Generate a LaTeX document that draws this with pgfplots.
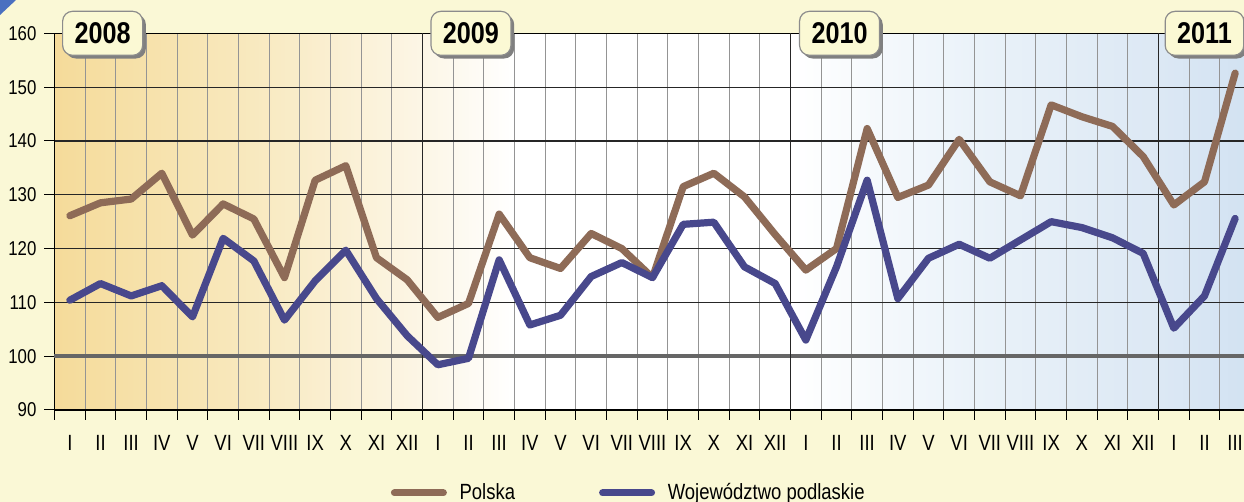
\documentclass[border=0pt]{standalone}
\usepackage{fontspec}
\setmainfont{Liberation Sans}[FakeStretch=0.84]
\usepackage{pgfplots}
\usepackage{pgfplotstable}
\pgfplotsset{compat=1.18}
\usetikzlibrary{shadows}
\definecolor{polska}{HTML}{8E6B57}
\definecolor{podl}{HTML}{48488C}
\definecolor{bgy}{HTML}{FAF8D6}
\definecolor{boxf}{HTML}{FBF9D4}
\definecolor{tri}{HTML}{4A70C0}
\definecolor{sa}{HTML}{F5DB9A}
\definecolor{sb}{HTML}{F8E8BC}
\definecolor{sc}{HTML}{FCF6E6}
\definecolor{sd}{HTML}{FFFFFF}
\definecolor{se}{HTML}{EAF2F9}
\definecolor{sf}{HTML}{DCE8F4}
\definecolor{sg}{HTML}{D2E2F2}
\pgfdeclarehorizontalshading{plotbg}{100bp}{color(0bp)=(sa); color(25bp)=(sa); color(32.7bp)=(sb); color(40.4bp)=(sc); color(44.2bp)=(sd); color(55.8bp)=(sd); color(63.5bp)=(se); color(71.2bp)=(sf); color(75bp)=(sg); color(100bp)=(sg)}

\pgfplotstableread{
x p w
0.5 126.1 110.4
1.5 128.5 113.5
2.5 129.2 111.2
3.5 134.0 113.1
4.5 122.5 107.3
5.5 128.3 121.9
6.5 125.5 117.7
7.5 114.6 106.7
8.5 132.7 114.0
9.5 135.4 119.7
10.5 118.3 110.7
11.5 114.2 103.8
12.5 107.2 98.4
13.5 109.8 99.6
14.5 126.4 117.9
15.5 118.3 105.8
16.5 116.3 107.6
17.5 122.8 114.8
18.5 120.0 117.4
19.5 114.6 114.6
20.5 131.5 124.5
21.5 134.0 124.9
22.5 129.6 116.6
23.5 122.6 113.5
24.5 116.0 103.0
25.5 120.0 116.6
26.5 142.3 132.7
27.5 129.5 110.7
28.5 131.8 118.2
29.5 140.3 120.8
30.5 132.4 118.2
31.5 129.8 121.6
32.5 146.7 125.0
33.5 144.5 123.9
34.5 142.7 122.0
35.5 137.1 119.1
36.5 128.1 105.2
37.5 132.4 111.2
38.5 152.6 125.6
}\datatable

\begin{document}
\begin{tikzpicture}
\useasboundingbox (0,0) rectangle (622pt,251pt);
\clip (0,0) rectangle (622pt,251pt);
\fill[bgy] (0,0) rectangle (622pt,251pt);
\fill[tri] (0,251pt) -- (8pt,251pt) -- (0,243.5pt) -- cycle;
\begin{axis}[
  at={(27.25pt,46pt)}, anchor=south west,
  scale only axis, width=598pt, height=188.35pt,
  xmin=0, xmax=39, ymin=90, ymax=160,
  clip=false,
  axis background/.style={shading=plotbg},
  axis line style={black, line width=0.6pt},
  tick align=outside, xtick pos=bottom, ytick pos=left,
  xtick={0.5,1.5,...,38.5},
  xticklabels={I,II,III,IV,V,VI,VII,VIII,IX,X,XI,XII,I,II,III,IV,V,VI,VII,VIII,IX,X,XI,XII,I,II,III,IV,V,VI,VII,VIII,IX,X,XI,XII,I,II,III},
  minor xtick={0,1,...,39},
  major x tick style={draw=none},
  minor tick length=5pt, major tick length=5pt,
  tick style={black, line width=0.5pt},
  xminorgrids=true, xmajorgrids=false,
  minor x grid style={black!42, line width=0.6pt},
  ytick={90,100,...,160},
  ymajorgrids=true,
  major y grid style={black!85, line width=0.6pt},
  /pgf/number format/assume math mode=true,
  xticklabel style={font=\fontsize{11pt}{13pt}\selectfont, anchor=north, yshift=-4pt},
  yticklabel style={font=\fontsize{10pt}{12pt}\selectfont, anchor=east, xshift=-0.5pt},
  legend style={at={(0.481,-0.2200)}, anchor=center, draw=none, fill=none,
    font=\fontsize{11pt}{13pt}\selectfont,
    /tikz/every even column/.append style={column sep=40pt}},
  legend columns=2,
  legend image code/.code={\draw[#1, line width=3.5pt, line cap=round] (0pt,0pt) -- (24.5pt,0pt); \path (28.8pt,0pt);},
]
\draw[black!60, line width=2pt] (axis cs:0,100) -- (axis cs:39,100);
\draw[black!85, line width=0.9pt] (axis cs:12,90) -- (axis cs:12,160);
\draw[black!85, line width=0.9pt] (axis cs:24,90) -- (axis cs:24,160);
\draw[black!85, line width=0.9pt] (axis cs:36,90) -- (axis cs:36,160);
\addplot[polska, line width=3.6pt, line join=round, line cap=round] table[x=x, y=p] {\datatable};
\addlegendentry{Polska}
\addplot[podl, line width=3.6pt, line join=round, line cap=round] table[x=x, y=w] {\datatable};
\addlegendentry{Województwo podlaskie}
\tikzset{yearbox/.style={draw=black!45, fill=boxf, rounded corners=5pt, line width=0.6pt,
  font=\bfseries\fontsize{15pt}{17pt}\selectfont, minimum height=22pt, inner xsep=6pt,
  drop shadow={shadow xshift=1.6pt, shadow yshift=-1.6pt, fill=black!50, opacity=1}}}
\node[yearbox] at (axis cs:1.57,160) {2008};
\node[yearbox] at (axis cs:13.58,160) {2009};
\node[yearbox] at (axis cs:25.6,160) {2010};
\node[yearbox] at (axis cs:37.5,160) {2011};
\end{axis}
\end{tikzpicture}
\end{document}
